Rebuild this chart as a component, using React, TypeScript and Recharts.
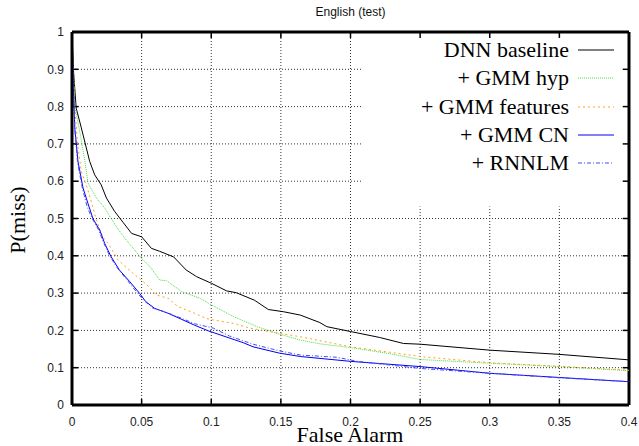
import React from 'react'
import { LineChart, Line, XAxis, YAxis, CartesianGrid, ReferenceArea, ReferenceLine } from 'recharts'

// DET curves, [false alarm, P(miss)]
const dnnBaseline = [
  [0, 1], [0.001, 0.9], [0.003, 0.796], [0.0067, 0.743], [0.0103, 0.689], [0.0127, 0.653],
  [0.0163, 0.617], [0.021, 0.59], [0.0247, 0.555], [0.0306, 0.519], [0.0366, 0.49],
  [0.0428, 0.46], [0.05, 0.451], [0.057, 0.42], [0.063, 0.412], [0.073, 0.397],
  [0.082, 0.362], [0.0895, 0.344], [0.1003, 0.326], [0.111, 0.306], [0.118, 0.301],
  [0.131, 0.281], [0.141, 0.256], [0.152, 0.25], [0.164, 0.241], [0.178, 0.221],
  [0.183, 0.21], [0.2, 0.197], [0.221, 0.181], [0.238, 0.165], [0.25, 0.163],
  [0.3, 0.147], [0.349, 0.136], [0.4, 0.121],
]
const gmmHyp = [
  [0, 1], [0.001, 0.9], [0.002, 0.8], [0.0055, 0.735], [0.009, 0.66], [0.0115, 0.595],
  [0.0175, 0.555], [0.0235, 0.528], [0.028, 0.501], [0.032, 0.477], [0.039, 0.442],
  [0.05, 0.393], [0.056, 0.371], [0.063, 0.335], [0.068, 0.333], [0.0788, 0.304],
  [0.092, 0.286], [0.1003, 0.268], [0.116, 0.237], [0.133, 0.21], [0.149, 0.19],
  [0.164, 0.174], [0.178, 0.164], [0.2, 0.154], [0.226, 0.139], [0.25, 0.122],
  [0.3, 0.112], [0.349, 0.103], [0.4, 0.092],
]
const gmmFeatures = [
  [0, 1], [0.001, 0.9], [0.002, 0.8], [0.004, 0.7], [0.0067, 0.626], [0.011, 0.582],
  [0.0151, 0.528], [0.0175, 0.496], [0.022, 0.451], [0.026, 0.433], [0.033, 0.389],
  [0.0426, 0.357], [0.0498, 0.335], [0.0558, 0.315], [0.0606, 0.295], [0.069, 0.286],
  [0.076, 0.264], [0.088, 0.246], [0.0965, 0.232], [0.1015, 0.228], [0.116, 0.219],
  [0.128, 0.206], [0.149, 0.192], [0.164, 0.183], [0.2, 0.156], [0.25, 0.13],
  [0.3, 0.113], [0.349, 0.104], [0.4, 0.093],
]
const gmmCN = [
  [0, 1], [0.001, 0.85], [0.002, 0.743], [0.0043, 0.653], [0.0079, 0.582], [0.0115, 0.54],
  [0.015, 0.5], [0.0199, 0.469], [0.0235, 0.433], [0.028, 0.398], [0.034, 0.362],
  [0.0414, 0.331], [0.0486, 0.299], [0.053, 0.277], [0.0594, 0.259], [0.069, 0.246],
  [0.0797, 0.228], [0.088, 0.214], [0.0977, 0.199], [0.1135, 0.179], [0.123, 0.167],
  [0.13, 0.156], [0.149, 0.139], [0.164, 0.13], [0.2, 0.117], [0.25, 0.103],
  [0.3, 0.085], [0.349, 0.074], [0.4, 0.0625],
]
const rnnlm = [
  [0, 1], [0.001, 0.85], [0.002, 0.74], [0.004, 0.65], [0.0075, 0.58], [0.011, 0.53],
  [0.0145, 0.5], [0.019, 0.47], [0.023, 0.433], [0.027, 0.4], [0.033, 0.365],
  [0.04, 0.333], [0.047, 0.3], [0.052, 0.279], [0.058, 0.26], [0.068, 0.248],
  [0.079, 0.232], [0.088, 0.218], [0.1015, 0.206], [0.113, 0.185], [0.13, 0.163],
  [0.149, 0.145], [0.164, 0.134], [0.19, 0.128], [0.205, 0.117], [0.25, 0.098],
  [0.3, 0.085], [0.349, 0.073], [0.4, 0.0625],
]

const xTicks = [0, 0.05, 0.1, 0.15, 0.2, 0.25, 0.3, 0.35, 0.4]
const yTicks = [0, 0.1, 0.2, 0.3, 0.4, 0.5, 0.6, 0.7, 0.8, 0.9, 1]

const series = [
  { name: 'DNN baseline', points: dnnBaseline, color: '#000000', dash: undefined },
  { name: '+ GMM hyp', points: gmmHyp, color: '#44e044', dash: '1 1' },
  { name: '+ GMM features', points: gmmFeatures, color: '#ffa020', dash: '2 3' },
  { name: '+ GMM CN', points: gmmCN, color: '#0000ee', dash: undefined },
  { name: '+ RNNLM', points: rnnlm, color: '#4a4aff', dash: '4 2 1 2' },
]

const W = 639
const H = 446
// inner tick length, ~6px in data units
const TX = 0.0045
const TY = 0.016
const tickFont = { fontSize: 12, fill: '#222', fontFamily: 'Liberation Sans, Arial, sans-serif' }
const serif = 'Liberation Serif, Times New Roman, serif'

const innerTicks = [
  ...xTicks.slice(1, -1).flatMap((x) => [
    [{ x, y: 0 }, { x, y: TY }],
    [{ x, y: 1 }, { x, y: 1 - TY }],
  ]),
  ...yTicks.slice(1, -1).flatMap((y) => [
    [{ x: 0, y }, { x: TX, y }],
    [{ x: 0.4, y }, { x: 0.4 - TX, y }],
  ]),
]

export default function App() {
  return (
    <div style={{ position: 'absolute', left: 0, top: 0, width: W, height: H, background: '#fff' }}>
      <LineChart width={W} height={H} margin={{ top: 32, right: 10, left: 0, bottom: 0 }}>
        <CartesianGrid stroke="#333" strokeDasharray="1 2" />
        <ReferenceArea x1={0.2085} x2={0.4} y1={0.532} y2={1}
          fill="#fff" fillOpacity={1} stroke="none" />
        <XAxis dataKey="x" type="number" domain={[0, 0.4]} ticks={xTicks}
          height={41} tick={tickFont} tickLine={false} tickMargin={6}
          axisLine={{ stroke: '#000', strokeWidth: 3 }} allowDataOverflow />
        <YAxis type="number" domain={[0, 1]} ticks={yTicks} width={72}
          tick={tickFont} tickLine={false} tickMargin={2}
          axisLine={{ stroke: '#000', strokeWidth: 3 }} allowDataOverflow />
        {innerTicks.map((seg, i) => (
          <ReferenceLine key={i} segment={seg} stroke="#000" strokeWidth={1.5} ifOverflow="visible" />
        ))}
        <ReferenceLine y={1} stroke="#000" strokeWidth={3} />
        <ReferenceLine x={0.4} stroke="#000" strokeWidth={3} />
        {series.map((s) => (
          <Line key={s.name} name={s.name}
            data={s.points.map(([x, y]) => ({ x, y }))} dataKey="y" type="linear"
            stroke={s.color} strokeWidth={1} strokeDasharray={s.dash} dot={false}
            activeDot={false} isAnimationActive={false} />
        ))}
      </LineChart>

      <div style={{ position: 'absolute', left: 72, width: 557, top: 5, textAlign: 'center',
        fontFamily: 'Liberation Sans, Arial, sans-serif', fontSize: 12, lineHeight: '15px', color: '#111' }}>
        English (test)
      </div>

      <div style={{ position: 'absolute', left: 250, width: 200, top: 425, textAlign: 'center',
        fontFamily: serif, fontSize: 22, lineHeight: '20px', color: '#000' }}>
        False Alarm
      </div>

      <div style={{ position: 'absolute', left: 18 - 50, top: 220 - 13, width: 100, height: 26,
        transform: 'rotate(-90deg)', textAlign: 'center', fontFamily: serif, fontSize: 22,
        lineHeight: '26px', color: '#000' }}>
        P(miss)
      </div>

      <div style={{ position: 'absolute', left: 370, top: 36, width: 250 }}>
        {series.map((s) => (
          <div key={s.name} style={{ display: 'flex', alignItems: 'center', height: 28.3,
            justifyContent: 'flex-end' }}>
            <span style={{ fontFamily: serif, fontSize: 22, color: '#000', whiteSpace: 'nowrap' }}>{s.name}</span>
            <svg width={36} height={4} style={{ marginLeft: 9, marginRight: 6 }}>
              <line x1={0} y1={2} x2={36} y2={2} stroke={s.color} strokeWidth={1}
                strokeDasharray={s.dash} />
            </svg>
          </div>
        ))}
      </div>
    </div>
  )
}
